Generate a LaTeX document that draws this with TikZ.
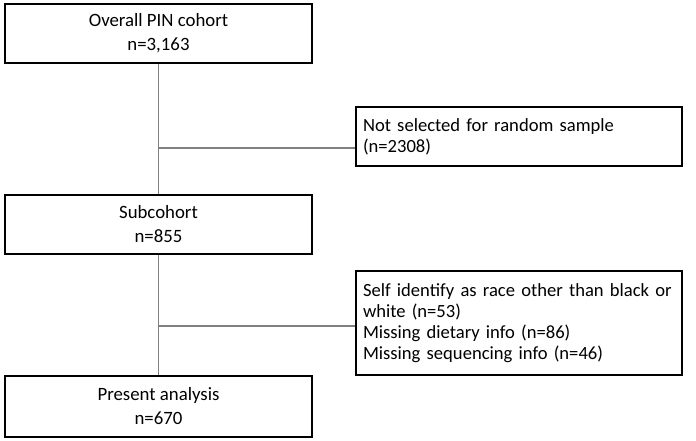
\documentclass[tikz,border=0pt]{standalone}
\usepackage{fontspec}
\setmainfont{Carlito}
\begin{document}
\begin{tikzpicture}[x=1pt,y=-1pt,
  mainbox/.style={draw=black, line width=1.5pt, rectangle, minimum width=307pt, align=center,
    font=\fontsize{18.8}{24}\selectfont, inner sep=0pt},
  sidebox/.style={draw=black, line width=1.5pt, rectangle, minimum width=326pt, text width=312pt,
    align=left, font=\fontsize{18.6}{21}\selectfont, inner xsep=7pt, inner ysep=0pt},
  link/.style={draw=gray, line width=1.2pt}]
\useasboundingbox (0,0) rectangle (696,440);
\node[mainbox, minimum height=59pt] (b1) at (158.5,33.5) {Overall PIN cohort\\n=3,163};
\node[sidebox, minimum height=59pt] (b2) at (519,136.5) {Not selected for random sample\\(n=2308)};
\node[mainbox, minimum height=59pt] (b3) at (158.5,224.5) {Subcohort\\n=855};
\node[sidebox, minimum height=104pt] (b4) at (519,323) {Self identify as race other than black or\\white (n=53)\\Missing dietary info (n=86)\\Missing sequencing info (n=46)};
\node[mainbox, minimum height=61pt] (b5) at (158.5,406.5) {Present analysis\\n=670};
\coordinate (j1) at (b1.south |- 0,148);
\coordinate (j2) at (b3.south |- 0,326);
\draw[link] (b1.south) -- (b3.north);
\draw[link] (b3.south) -- (b5.north);
\draw[link] (j1) -- (j1 -| b2.west);
\draw[link] (j2) -- (j2 -| b4.west);
\end{tikzpicture}
\end{document}
